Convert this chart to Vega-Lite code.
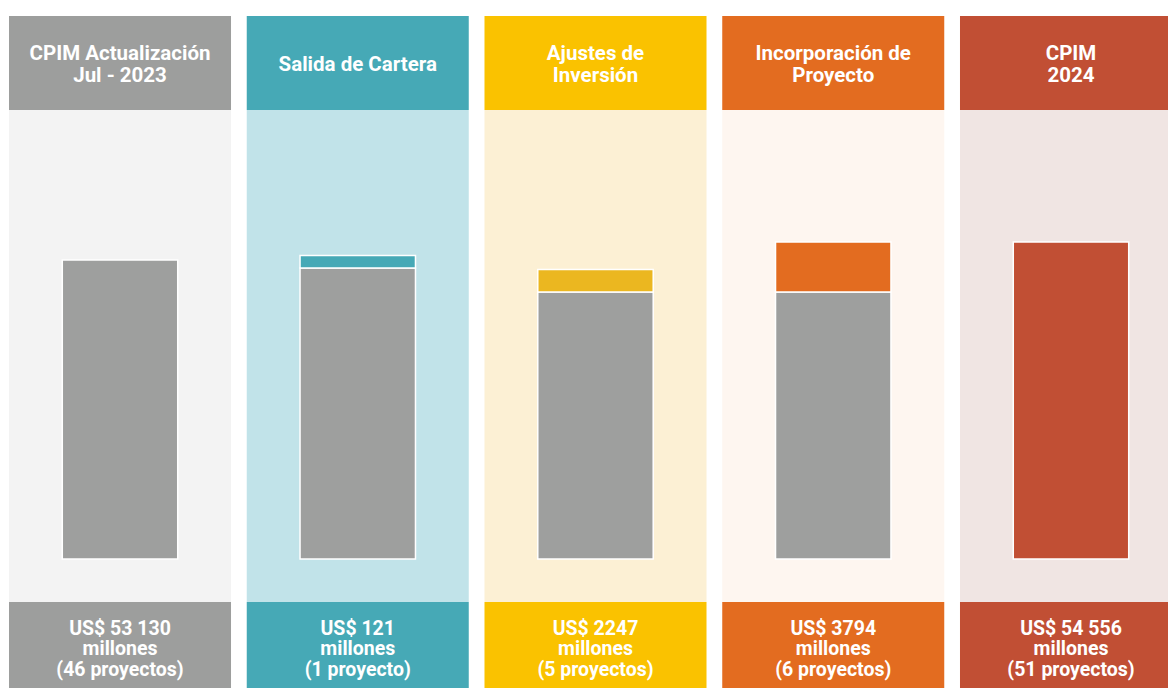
{
  "$schema": "https://vega.github.io/schema/vega-lite/v6.json",
  "width": 1168,
  "height": 688,
  "autosize": {"type": "none"},
  "padding": 0,
  "background": "white",
  "config": {"view": {"stroke": null}},
  "datasets": {
    "etapas": [
      {"etapa": "CPIM Actualización Jul - 2023", "titulo": "CPIM Actualización\nJul - 2023", "monto": "US$ 53 130\nmillones\n(46 proyectos)"},
      {"etapa": "Salida de Cartera", "titulo": "Salida de Cartera", "monto": "US$ 121\nmillones\n(1 proyecto)"},
      {"etapa": "Ajustes de Inversión", "titulo": "Ajustes de\nInversión", "monto": "US$ 2247\nmillones\n(5 proyectos)"},
      {"etapa": "Incorporación de Proyecto", "titulo": "Incorporación de\nProyecto", "monto": "US$ 3794\nmillones\n(6 proyectos)"},
      {"etapa": "CPIM 2024", "titulo": "CPIM\n2024", "monto": "US$ 54 556\nmillones\n(51 proyectos)"}
    ],
    "barras": [
      {"etapa": "CPIM Actualización Jul - 2023", "serie": "Base", "inicio": 0, "fin": 299},
      {"etapa": "Salida de Cartera", "serie": "Base", "inicio": 0, "fin": 291},
      {"etapa": "Salida de Cartera", "serie": "Salida de Cartera", "inicio": 291, "fin": 303.5},
      {"etapa": "Ajustes de Inversión", "serie": "Base", "inicio": 0, "fin": 267},
      {"etapa": "Ajustes de Inversión", "serie": "Ajustes de Inversión", "inicio": 267, "fin": 289.5},
      {"etapa": "Incorporación de Proyecto", "serie": "Base", "inicio": 0, "fin": 267},
      {"etapa": "Incorporación de Proyecto", "serie": "Incorporación de Proyecto", "inicio": 267, "fin": 317},
      {"etapa": "CPIM 2024", "serie": "CPIM 2024", "inicio": 0, "fin": 317}
    ]
  },
  "encoding": {
    "x": {
      "field": "etapa",
      "type": "nominal",
      "sort": null,
      "axis": null,
      "scale": {
        "type": "band",
        "domain": ["CPIM Actualización Jul - 2023", "Salida de Cartera", "Ajustes de Inversión", "Incorporación de Proyecto", "CPIM 2024"],
        "range": [9, 1182],
        "paddingInner": 0.0662,
        "paddingOuter": 0
      }
    }
  },
  "layer": [
    {
      "data": {"name": "etapas"},
      "mark": {"type": "rect"},
      "encoding": {
        "y": {"datum": 543, "type": "quantitative", "axis": null, "scale": {"domain": [-129, 559], "nice": false, "zero": false}},
        "y2": {"datum": 449},
        "color": {"field": "etapa", "type": "nominal", "legend": null,
          "scale": {"domain": ["CPIM Actualización Jul - 2023", "Salida de Cartera", "Ajustes de Inversión", "Incorporación de Proyecto", "CPIM 2024"],
                    "range": ["#9D9E9D", "#46A9B6", "#FAC200", "#E36C20", "#C14F34"]}}
      }
    },
    {
      "data": {"name": "etapas"},
      "mark": {"type": "rect"},
      "encoding": {
        "y": {"datum": 449, "type": "quantitative"},
        "y2": {"datum": -43},
        "color": {"field": "etapa", "type": "nominal", "legend": null,
          "scale": {"domain": ["CPIM Actualización Jul - 2023", "Salida de Cartera", "Ajustes de Inversión", "Incorporación de Proyecto", "CPIM 2024"],
                    "range": ["#F3F3F3", "#C1E3E9", "#FCF0D4", "#FEF6F0", "#F0E5E3"]}}
      }
    },
    {
      "data": {"name": "etapas"},
      "mark": {"type": "rect"},
      "encoding": {
        "y": {"datum": -43, "type": "quantitative"},
        "y2": {"datum": -129},
        "color": {"field": "etapa", "type": "nominal", "legend": null,
          "scale": {"domain": ["CPIM Actualización Jul - 2023", "Salida de Cartera", "Ajustes de Inversión", "Incorporación de Proyecto", "CPIM 2024"],
                    "range": ["#9D9E9D", "#46A9B6", "#FAC200", "#E36C20", "#C14F34"]}}
      }
    },
    {
      "data": {"name": "barras"},
      "mark": {"type": "bar", "width": {"band": 0.52}, "stroke": "white", "strokeWidth": 1.5},
      "encoding": {
        "y": {"field": "inicio", "type": "quantitative"},
        "y2": {"field": "fin"},
        "color": {"field": "serie", "type": "nominal", "legend": null,
          "scale": {"domain": ["Base", "Salida de Cartera", "Ajustes de Inversión", "Incorporación de Proyecto", "CPIM 2024"],
                    "range": ["#9E9F9E", "#46A9B6", "#EBB720", "#E36C20", "#C14F34"]}}
      }
    },
    {
      "data": {"name": "etapas"},
      "transform": [{"calculate": "488 + (length(split(datum.titulo, '\\n')) - 1) * 10.75", "as": "y_titulo"}],
      "mark": {"type": "text", "color": "white", "fontWeight": "bold", "fontSize": 20.5, "lineHeight": 21.5, "lineBreak": "\n", "baseline": "alphabetic", "align": "center",
               "font": "Roboto, 'Open Sans', sans-serif"},
      "encoding": {
        "y": {"field": "y_titulo", "type": "quantitative"},
        "text": {"field": "titulo"}
      }
    },
    {
      "data": {"name": "etapas"},
      "mark": {"type": "text", "color": "white", "fontWeight": "bold", "fontSize": 19.5, "lineHeight": 20.5, "lineBreak": "\n", "baseline": "alphabetic", "align": "center",
               "font": "Roboto, 'Open Sans', sans-serif"},
      "encoding": {
        "y": {"datum": -75.5, "type": "quantitative"},
        "text": {"field": "monto"}
      }
    }
  ],
  "resolve": {"scale": {"color": "independent"}}
}
